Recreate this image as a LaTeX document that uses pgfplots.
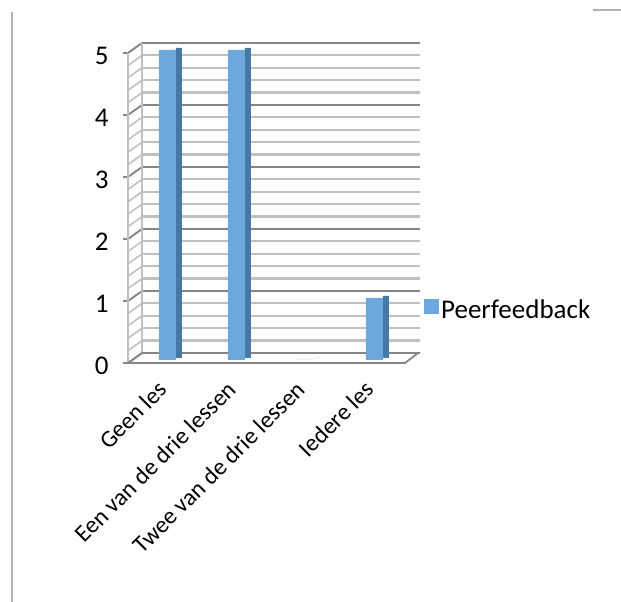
\documentclass[border=0pt]{standalone}
\usepackage{fontspec}
\setmainfont{Carlito}
\usepackage{pgfplots}
\pgfplotsset{compat=1.18}
\definecolor{barblue}{RGB}{108,168,220}
\definecolor{sideblue}{RGB}{70,122,164}
\definecolor{majgray}{RGB}{134,134,134}
\definecolor{mingray}{RGB}{192,192,192}
\begin{document}
\begin{tikzpicture}
\useasboundingbox (0,0) rectangle (621pt,602pt);
% outer frame fragments
\draw[gray!60, line width=1.2pt] (12pt,590pt) -- (12pt,0pt);
\draw[gray!60, line width=1.2pt] (593pt,592pt) -- (621pt,592pt);
% back plane grid
\begin{axis}[
  at={(142pt,249pt)}, anchor=south west,
  scale only axis, width=278pt, height=310pt,
  xmin=0, xmax=1, ymin=0, ymax=5,
  ytick={0,1,2,3,4,5}, minor y tick num=4,
  ymajorgrids, yminorgrids,
  major grid style={majgray, line width=2.2pt},
  minor grid style={mingray, line width=2.2pt},
  axis line style={draw=none}, tick style={draw=none},
  xtick=\empty, yticklabels={},
  clip=false,
]
\addplot[draw=none, forget plot] coordinates {(0,0)};
\end{axis}
% main front axis
\begin{axis}[
  at={(128pt,239pt)}, anchor=south west,
  scale only axis, width=280pt, height=310pt,
  xmin=-0.507, xmax=3.551, ymin=0, ymax=5,
  ytick={0,1,2,3,4,5}, ytick pos=left,
  tick align=outside, major tick length=5pt,
  ytick style={majgray, line width=1.5pt},
  yticklabel style={xshift=-11pt, yshift=-3pt, font=\fontsize{27}{30}\selectfont},
  xtick={0,1,2,3}, xtick style={draw=none},
  xticklabels={Geen les, Een van de drie lessen, Twee van de drie lessen, Iedere les},
  xticklabel style={rotate=45, anchor=north east, xshift=-9pt, yshift=0pt, font=\fontsize{24}{28}\selectfont},
  /pgf/number format/assume math mode=true,
  axis line style={draw=none},
  clip=false,
  legend style={at={(axis description cs:1.057,0.171)}, anchor=west, draw=none, fill=none,
    font=\fontsize{27}{30}\selectfont, inner sep=0pt},
  legend cell align=left,
  legend image code/.code={\fill[#1] (0pt,-7.5pt) rectangle (15pt,7.5pt);},
]
% left wall
\pgfplotsinvokeforeach{0,0.2,0.4,0.6,0.8,1,1.2,1.4,1.6,1.8,2,2.2,2.4,2.6,2.8,3,3.2,3.4,3.6,3.8,4,4.2,4.4,4.6,4.8,5}{
  \draw[mingray, line width=1.6pt] (axis cs:-0.507,#1) -- ++(14pt,10pt);
}
\pgfplotsinvokeforeach{0,1,2,3,4,5}{
  \draw[majgray, line width=1.8pt] (axis cs:-0.507,#1) -- ++(14pt,10pt);
}
\draw[mingray, line width=2pt] (axis cs:-0.507,0) -- (axis cs:-0.507,5);
\draw[mingray, line width=1.6pt] (axis cs:-0.507,0) ++(14pt,10pt) -- ++(0pt,310pt);
% floor
\draw[majgray, line width=1.8pt] (axis cs:-0.507,0) -- ++(277pt,0pt) -- ++(13pt,10pt) -- ++(-276pt,0pt) -- cycle;
% bars
\addplot[ybar, bar width=6pt, bar shift=16pt, fill=sideblue, draw=none, yshift=5pt, forget plot]
  coordinates {(0,5) (1,5) (2,0) (3,1)};
\addplot[ybar, bar width=17pt, bar shift=4.5pt, fill=barblue, draw=none, yshift=3pt]
  coordinates {(0,5) (1,5) (2,0) (3,1)};
\legend{Peerfeedback}
\end{axis}
\end{tikzpicture}
\end{document}
